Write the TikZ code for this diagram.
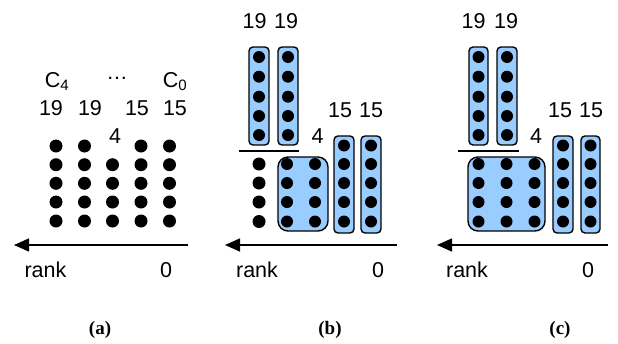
\documentclass[tikz,border=0pt]{standalone}
\usepackage{fontspec}
\setmainfont{Liberation Sans}
\newfontfamily\capfont{Liberation Serif}
\usetikzlibrary{arrows.meta}
\definecolor{boxblue}{HTML}{99CCFF}

\begin{document}
\begin{tikzpicture}[x=1pt,y=-1pt,
  plaindot/.style={circle,fill=black,inner sep=0pt,minimum size=13pt},
  boxdot/.style={circle,fill=black,inner sep=0pt,minimum size=12pt},
  colbox/.style={draw=black,line width=1.4pt,fill=boxblue,rounded corners=4pt},
  sqbox/.style={draw=black,line width=1.4pt,fill=boxblue,rounded corners=10pt},
  lbl/.style={font=\fontsize{21.5}{26}\selectfont,anchor=base,inner sep=0pt},
  axis/.style={line width=1.6pt,-{Triangle[length=15pt,width=13pt]}},
  splitline/.style={line width=1.4pt},
  caption/.style={font=\capfont\bfseries\fontsize{19}{22}\selectfont,anchor=base,inner sep=0pt}]
\useasboundingbox (0,0) rectangle (618,343);

% ---------------- (a) ----------------
\node[lbl] (a-c4) at (57,87) {C\textsubscript{4}};
\node[lbl] (a-dots) at (117,79) {…};
\node[lbl] (a-c0) at (175,87) {C\textsubscript{0}};
\node[lbl] (a-n1) at (51,115) {19};
\node[lbl] (a-n2) at (90,115) {19};
\node[lbl] (a-n3) at (137,115) {15};
\node[lbl] (a-n4) at (175,115) {15};
\node[lbl] (a-n5) at (115,143) {4};
\foreach \x [count=\i] in {56,84.5,112.5,141,169.5}
  \foreach \y [count=\j] in {146,164.7,183.3,202,221}{
    \ifnum\i=3 \ifnum\j=1 \else \node[plaindot] (a-d\i\j) at (\x,\y) {};\fi
    \else \node[plaindot] (a-d\i\j) at (\x,\y) {};\fi
  }
\coordinate (a-from) at (188,245);
\coordinate (a-to) at (14,245);
\draw[axis] (a-from) -- (a-to);
\node[lbl] (a-rank) at (45.5,277) {rank};
\node[lbl] (a-zero) at (166,277) {0};
\node[caption] (a-cap) at (100,334) {(a)};

% ---------------- (b) ----------------
\node[lbl] (b-n1) at (254.5,28) {19};
\node[lbl] (b-n2) at (286,28) {19};
\node[lbl] (b-n3) at (340,117) {15};
\node[lbl] (b-n4) at (371,117) {15};
\node[lbl] (b-n5) at (317.5,143) {4};
\draw[colbox] (249,47) rectangle (269,145);
\draw[colbox] (278,47) rectangle (298,145);
\foreach \x [count=\i] in {259,288}
  \foreach \y [count=\j] in {57,76.7,96.7,116,135}
    \node[boxdot] (b-t\i\j) at (\x,\y) {};
\coordinate (b-l1) at (239,151);
\coordinate (b-l2) at (299,151);
\draw[splitline] (b-l1) -- (b-l2);
\foreach \y [count=\j] in {164,183,202,221.5}
  \node[plaindot] (b-p\j) at (259,\y) {};
\draw[sqbox] (278,157) rectangle (328,231);
\foreach \x [count=\i] in {287,315}
  \foreach \y [count=\j] in {164,183,202,221.5}
    \node[boxdot] (b-s\i\j) at (\x,\y) {};
\draw[colbox] (334,136) rectangle (354,233);
\draw[colbox] (361,136) rectangle (381,233);
\foreach \x [count=\i] in {344,371}
  \foreach \y [count=\j] in {145.5,164,183,202,221.5}
    \node[boxdot] (b-r\i\j) at (\x,\y) {};
\coordinate (b-from) at (397,245);
\coordinate (b-to) at (225,245);
\draw[axis] (b-from) -- (b-to);
\node[lbl] (b-rank) at (257,277) {rank};
\node[lbl] (b-zero) at (378,277) {0};
\node[caption] (b-cap) at (330,334) {(b)};

% ---------------- (c) ----------------
\node[lbl] (c-n1) at (473.5,28) {19};
\node[lbl] (c-n2) at (506,28) {19};
\node[lbl] (c-n3) at (560,117) {15};
\node[lbl] (c-n4) at (591,117) {15};
\node[lbl] (c-n5) at (536,143) {4};
\draw[colbox] (469,47) rectangle (488,145);
\draw[colbox] (497,47) rectangle (517,145);
\foreach \x [count=\i] in {478.5,507}
  \foreach \y [count=\j] in {57,76.7,96.7,116,135}
    \node[boxdot] (c-t\i\j) at (\x,\y) {};
\coordinate (c-l1) at (458,151);
\coordinate (c-l2) at (519,151);
\draw[splitline] (c-l1) -- (c-l2);
\draw[sqbox] (468,157) rectangle (545,231);
\foreach \x [count=\i] in {478.5,506.5,534.5}
  \foreach \y [count=\j] in {164,183,202,221.5}
    \node[boxdot] (c-s\i\j) at (\x,\y) {};
\draw[colbox] (553,136) rectangle (573,233);
\draw[colbox] (581,136) rectangle (600,233);
\foreach \x [count=\i] in {563,590.5}
  \foreach \y [count=\j] in {145.5,164,183,202,221.5}
    \node[boxdot] (c-r\i\j) at (\x,\y) {};
\coordinate (c-from) at (608,245);
\coordinate (c-to) at (437,245);
\draw[axis] (c-from) -- (c-to);
\node[lbl] (c-rank) at (467,277) {rank};
\node[lbl] (c-zero) at (588,277) {0};
\node[caption] (c-cap) at (560,334) {(c)};
\end{tikzpicture}
\end{document}
